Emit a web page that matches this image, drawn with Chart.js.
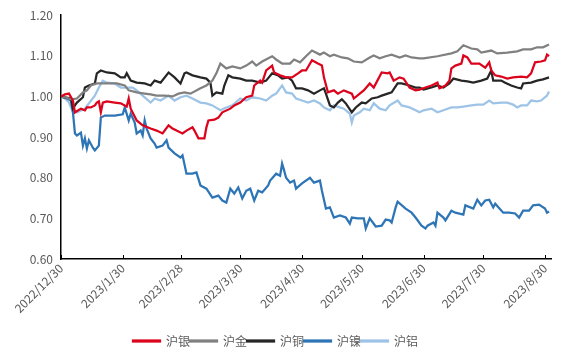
<!DOCTYPE html>
<html>
<head>
<meta charset="utf-8">
<script src="https://cdn.jsdelivr.net/npm/chart.js@4/dist/chart.umd.min.js"></script>
<style>
  html, body { margin: 0; padding: 0; background: #fff; }
  #box { width: 566px; height: 362px; }
</style>
</head>
<body>
<div id="box"><canvas id="grafico"></canvas></div>
<script>
// dias contados a partir de 2022/12/30
var tickDays = [0, 31, 60, 90, 121, 151, 182, 212, 243];
var tickLabels = ['2022/12/30', '2023/1/30', '2023/2/28', '2023/3/30', '2023/4/30', '2023/5/30', '2023/6/30', '2023/7/30', '2023/8/30'];
var nomes = ['沪银', '沪金', '沪铜', '沪镍', '沪铝'];
var cores = ['rgb(220, 4, 28)', 'rgb(128, 128, 128)', 'rgb(38, 38, 38)', 'rgb(46, 117, 182)', 'rgb(157, 195, 230)'];

var prata = [[0,1.000],[2,1.005],[4,1.007],[6,0.990],[7,0.961],[10,0.970],[12,0.966],[13,0.973],[15,0.973],[17,0.978],[18,0.985],[19,0.988],[20,0.961],[21,0.985],[23,0.988],[27,0.985],[30,0.983],[33,0.975],[34,0.995],[35,0.970],[38,0.941],[41,0.929],[45,0.921],[48,0.916],[51,0.909],[54,0.929],[56,0.921],[58,0.916],[61,0.909],[63,0.916],[66,0.924],[67,0.916],[69,0.897],[72,0.897],[73,0.924],[74,0.941],[77,0.943],[79,0.948],[81,0.961],[85,0.970],[87,0.978],[90,0.985],[93,0.998],[96,1.002],[97,1.027],[100,1.039],[101,1.034],[103,1.064],[106,1.076],[107,1.059],[110,1.052],[113,1.047],[116,1.047],[119,1.057],[121,1.064],[123,1.064],[126,1.089],[129,1.081],[131,1.076],[132,1.047],[134,1.010],[137,1.015],[139,1.007],[142,1.015],[146,1.007],[147,0.995],[150,1.007],[152,1.015],[155,1.032],[157,1.022],[161,1.059],[164,1.057],[165,1.059],[167,1.039],[170,1.047],[172,1.044],[175,1.022],[178,1.015],[180,1.017],[183,1.022],[186,1.027],[189,1.034],[190,1.020],[191,1.022],[193,1.027],[195,1.039],[196,1.069],[198,1.076],[201,1.081],[202,1.101],[204,1.096],[206,1.081],[207,1.081],[210,1.081],[213,1.071],[215,1.084],[216,1.064],[218,1.052],[221,1.049],[224,1.044],[227,1.047],[231,1.049],[234,1.047],[236,1.057],[238,1.084],[241,1.086],[243,1.089],[244,1.103],[245,1.099]];

var ouro = [[0,1.000],[2,0.998],[5,0.993],[8,0.995],[11,1.010],[13,1.015],[15,1.027],[18,1.032],[20,1.032],[24,1.032],[28,1.032],[32,1.027],[34,1.015],[38,1.010],[42,1.007],[45,1.005],[48,1.002],[52,1.002],[56,1.000],[59,1.007],[62,1.010],[65,1.007],[70,1.020],[73,1.027],[76,1.039],[78,1.057],[80,1.081],[83,1.069],[86,1.074],[90,1.069],[93,1.076],[96,1.086],[98,1.076],[101,1.086],[106,1.099],[108,1.091],[111,1.081],[115,1.081],[117,1.091],[120,1.084],[123,1.099],[126,1.113],[130,1.103],[132,1.108],[135,1.099],[137,1.103],[141,1.096],[144,1.094],[147,1.086],[151,1.084],[155,1.096],[157,1.101],[160,1.094],[163,1.099],[166,1.103],[170,1.096],[173,1.101],[176,1.096],[180,1.094],[182,1.094],[189,1.099],[196,1.106],[199,1.111],[202,1.126],[206,1.118],[209,1.116],[211,1.108],[216,1.113],[219,1.106],[224,1.108],[229,1.111],[232,1.116],[236,1.116],[239,1.121],[242,1.121],[245,1.128]];

var cobre = [[0,1.000],[2,0.998],[5,0.995],[6,0.970],[7,0.978],[8,0.985],[11,0.998],[12,1.022],[14,1.027],[17,1.032],[18,1.057],[20,1.064],[23,1.059],[27,1.057],[30,1.047],[32,1.047],[33,1.057],[35,1.039],[38,1.034],[42,1.032],[45,1.027],[47,1.039],[50,1.034],[54,1.059],[57,1.047],[60,1.032],[62,1.057],[63,1.059],[66,1.052],[70,1.047],[73,1.044],[75,1.034],[76,1.002],[78,1.010],[81,1.007],[82,1.027],[84,1.052],[86,1.047],[90,1.044],[93,1.039],[96,1.039],[100,1.034],[103,1.039],[106,1.057],[109,1.052],[111,1.044],[114,1.047],[116,1.039],[118,1.020],[121,1.020],[124,1.015],[127,1.007],[130,1.015],[132,1.020],[133,1.007],[135,0.978],[137,0.973],[139,0.985],[141,0.993],[143,0.983],[146,0.961],[148,0.973],[151,0.985],[153,0.983],[156,0.995],[159,0.998],[161,1.002],[164,1.007],[166,1.010],[169,1.032],[171,1.032],[175,1.027],[178,1.022],[180,1.022],[182,1.017],[186,1.022],[189,1.027],[192,1.022],[195,1.032],[197,1.044],[201,1.039],[204,1.037],[207,1.034],[211,1.039],[214,1.044],[216,1.064],[217,1.039],[221,1.039],[223,1.034],[226,1.027],[229,1.022],[231,1.020],[232,1.032],[236,1.034],[239,1.039],[242,1.042],[245,1.047]];

var niquel = [[0,1.000],[3,0.995],[5,0.990],[6,0.961],[7,0.909],[8,0.904],[10,0.911],[11,0.879],[12,0.897],[13,0.872],[14,0.892],[16,0.874],[17,0.867],[19,0.879],[20,0.948],[22,0.953],[27,0.953],[31,0.956],[32,0.973],[34,0.941],[35,0.958],[37,0.936],[38,0.909],[40,0.916],[41,0.904],[42,0.941],[43,0.921],[45,0.897],[47,0.884],[48,0.874],[51,0.879],[53,0.892],[54,0.874],[57,0.860],[60,0.850],[61,0.855],[63,0.810],[66,0.810],[68,0.813],[70,0.781],[73,0.773],[76,0.751],[79,0.756],[81,0.744],[83,0.739],[85,0.773],[87,0.761],[89,0.776],[91,0.749],[93,0.768],[95,0.773],[97,0.744],[99,0.768],[101,0.764],[104,0.781],[105,0.793],[108,0.810],[110,0.805],[111,0.835],[112,0.818],[113,0.800],[115,0.788],[117,0.793],[118,0.773],[121,0.786],[125,0.800],[127,0.788],[130,0.793],[131,0.768],[133,0.724],[135,0.727],[137,0.702],[140,0.707],[143,0.702],[145,0.687],[146,0.702],[149,0.700],[152,0.700],[153,0.675],[155,0.700],[158,0.680],[161,0.682],[163,0.697],[165,0.695],[166,0.690],[168,0.727],[169,0.741],[173,0.724],[176,0.714],[178,0.702],[181,0.682],[183,0.675],[184,0.682],[187,0.690],[188,0.682],[189,0.714],[192,0.702],[193,0.695],[196,0.719],[198,0.714],[202,0.709],[203,0.732],[207,0.724],[209,0.746],[211,0.732],[213,0.744],[215,0.746],[217,0.727],[218,0.736],[222,0.714],[225,0.714],[228,0.712],[230,0.702],[232,0.719],[235,0.719],[237,0.732],[240,0.734],[243,0.724],[244,0.714],[245,0.717]];

var aluminio = [[0,1.000],[2,0.995],[4,0.985],[6,0.961],[8,0.961],[12,0.970],[14,0.983],[17,1.002],[19,1.022],[21,1.039],[23,1.034],[27,1.032],[30,1.022],[32,1.022],[36,1.022],[38,1.015],[42,0.998],[45,0.985],[47,0.995],[50,0.990],[54,1.002],[57,0.990],[60,0.998],[63,1.002],[66,0.995],[70,0.985],[73,0.983],[76,0.978],[80,0.966],[83,0.973],[86,0.978],[90,0.995],[93,0.990],[96,0.998],[100,0.995],[103,0.990],[106,1.002],[108,1.007],[111,1.027],[113,1.010],[116,1.007],[118,0.995],[121,0.990],[124,0.985],[127,0.990],[130,0.983],[132,0.973],[135,0.966],[137,0.978],[140,0.973],[142,0.970],[145,0.958],[146,0.936],[147,0.953],[150,0.961],[152,0.970],[155,0.966],[157,0.983],[160,0.970],[163,0.966],[165,0.978],[169,0.990],[171,0.978],[175,0.973],[178,0.966],[180,0.961],[182,0.966],[186,0.970],[189,0.961],[192,0.966],[196,0.973],[199,0.973],[202,0.975],[206,0.978],[209,0.980],[212,0.980],[215,0.990],[217,0.983],[221,0.985],[224,0.985],[227,0.980],[229,0.973],[231,0.978],[234,0.978],[236,0.990],[239,0.988],[241,0.990],[244,1.002],[245,1.012]];

var series = [prata, ouro, cobre, niquel, aluminio];

function pontos(v) {
  return v.map(function (p) { return { x: p[0], y: p[1] }; });
}

// marcas pequenas para dentro no eixo x
var marcasX = {
  id: 'marcasX',
  afterDraw: function (chart) {
    var ctx = chart.ctx;
    var sx = chart.scales.x;
    var base = chart.chartArea.bottom;
    ctx.save();
    ctx.strokeStyle = '#000';
    ctx.lineWidth = 1;
    for (var i = 0; i < tickDays.length; i++) {
      var px = Math.round(sx.getPixelForValue(tickDays[i])) + 0.5;
      ctx.beginPath();
      ctx.moveTo(px, base);
      ctx.lineTo(px, base - 4);
      ctx.stroke();
    }
    ctx.restore();
  }
};

var datasets = [];
for (var i = 0; i < series.length; i++) {
  datasets.push({
    label: nomes[i],
    data: pontos(series[i]),
    borderColor: cores[i],
    backgroundColor: cores[i],
    borderWidth: 2.25,
    pointRadius: 0,
    tension: 0
  });
}

Chart.defaults.font.family = "'Microsoft YaHei', 'Noto Sans CJK SC', sans-serif";
Chart.defaults.font.size = 12;
Chart.defaults.color = '#595959';

new Chart(document.getElementById('grafico'), {
  type: 'line',
  data: { datasets: datasets },
  plugins: [marcasX],
  options: {
    responsive: true,
    maintainAspectRatio: false,
    animation: false,
    layout: { padding: { top: 15, right: 15, bottom: 5, left: 0 } },
    plugins: {
      legend: {
        position: 'bottom',
        labels: { boxWidth: 27, boxHeight: 1, padding: 0, color: '#595959' }
      },
      tooltip: { enabled: false }
    },
    scales: {
      x: {
        type: 'linear',
        min: 0,
        max: 246,
        afterBuildTicks: function (axis) {
          axis.ticks = tickDays.map(function (d) { return { value: d }; });
        },
        afterFit: function (axis) { axis.height = 76; },
        ticks: {
          autoSkip: false,
          maxRotation: 45,
          minRotation: 45,
          padding: 2,
          callback: function (value) {
            var k = tickDays.indexOf(value);
            return k >= 0 ? tickLabels[k] : '';
          }
        },
        grid: { display: false, drawTicks: false },
        border: { display: true, color: '#000', width: 1.5 }
      },
      y: {
        min: 0.6,
        max: 1.2,
        afterFit: function (axis) { axis.width = 61; },
        ticks: {
          stepSize: 0.1,
          padding: 8,
          callback: function (value) { return Number(value).toFixed(2); }
        },
        grid: { display: false, drawTicks: false },
        border: { display: true, color: '#000', width: 1.5 }
      }
    }
  }
});
</script>
</body>
</html>
